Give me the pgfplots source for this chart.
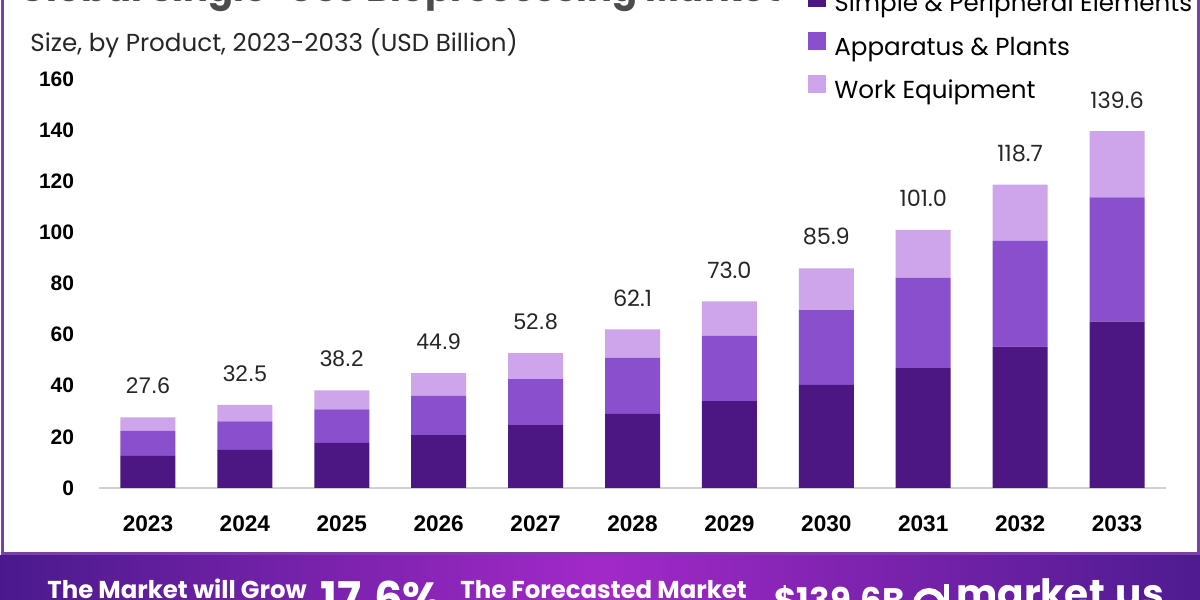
\documentclass[border=0pt]{standalone}
\usepackage{pgfplots}
\pgfplotsset{compat=1.18}
\usepackage{pgfplotstable}
\usepackage{fontspec}
\setmainfont{Poppins}
\newfontfamily\arialf{Liberation Sans}
\definecolor{cDark}{HTML}{4C1782}
\definecolor{cMid}{HTML}{8A4FCC}
\definecolor{cLight}{HTML}{CEA5EB}
\definecolor{cBorder}{HTML}{7B3FA6}
\definecolor{bLeft}{HTML}{4A1A8C}
\definecolor{bMid}{HTML}{A229C8}
\definecolor{bRight}{HTML}{4E1B90}
\pgfplotstableread{
x dark mid light total
0 12.6 9.7 5.3 27.6
1 14.9 11.2 6.4 32.5
2 17.7 13.1 7.4 38.2
3 20.7 15.4 8.8 44.9
4 24.6 18.0 10.2 52.8
5 29.0 21.9 11.2 62.1
6 34.0 25.5 13.5 73.0
7 40.3 29.3 16.3 85.9
8 46.9 35.3 18.8 101.0
9 55.3 41.5 21.9 118.7
10 65.1 48.6 25.9 139.6
}\data
\pgfplotsset{geom/.style={
  at={(49.75pt,56pt)}, anchor=south west,
  scale only axis, width=533pt, height=204.5pt,
  ymin=0, ymax=160, xmin=-0.5, xmax=10.5}}
\begin{document}
\begin{tikzpicture}
\useasboundingbox (0pt,0pt) rectangle (600pt,300pt);
\clip (0pt,0pt) rectangle (600pt,300pt);
\fill[white] (0pt,0pt) rectangle (600pt,300pt);
% title (cut off at top)
\node[anchor=base west, inner sep=0pt, text=black!70, font=\bfseries\fontsize{18.5}{22}\selectfont] at (9pt,299.3pt) {Global Single-Use Bioprocessing Market};
% subtitle
\node[anchor=base west, inner sep=0pt, text=black!85, font=\fontsize{12.3}{14}\selectfont] at (15pt,274pt) {Size, by Product, 2023-2033 (USD Billion)};
% panel border
\draw[cBorder, line width=1.5pt] (1pt,310pt) -- (1pt,23pt) -- (599pt,23pt) -- (599pt,310pt);
\begin{axis}[geom,
  ybar stacked, bar width=27.5pt,
  axis lines=left, axis line style={-},
  x axis line style={draw=black!18, line width=1.2pt},
  y axis line style={draw=none},
  major tick length=0pt,
  ytick={0,20,...,160},
  xtick={0,...,10},
  xticklabels={2023,2024,2025,2026,2027,2028,2029,2030,2031,2032,2033},
  /pgf/number format/assume math mode=true,
  yticklabel style={font=\arialf\bfseries\fontsize{10.5}{12}\selectfont, anchor=east, inner sep=0pt, xshift=-12.5pt},
  xticklabel style={font=\arialf\bfseries\fontsize{11.3}{13}\selectfont, anchor=north, inner sep=0pt, yshift=-13.5pt},
  legend cell align=left,
  legend style={at={(rel axis cs:0.6646,1.222)}, anchor=north west, draw=none, fill=none, inner sep=0pt,
    font=\fontsize{12.3}{14}\selectfont, row sep=7pt,
    nodes={inner sep=0pt, text height=9pt, text depth=3pt}},
  legend image code/.code={\fill[#1] (0pt,-0.3pt) rectangle (9pt,8.7pt); \path (13pt,0pt);},
]
\addplot[fill=cDark, draw=none] table[x=x, y=dark] {\data};
\addlegendentry{Simple \& Peripheral Elements}
\addplot[fill=cMid, draw=none] table[x=x, y=mid] {\data};
\addlegendentry{Apparatus \& Plants}
\addplot[fill=cLight, draw=none] table[x=x, y=light] {\data};
\addlegendentry{Work Equipment}
\end{axis}
% value labels on an overlay axis of the same geometry
\begin{axis}[geom, hide axis, clip=false]
\addplot[draw=none, mark=none, point meta=explicit, restrict x to domain=-0.5:4.5,
  nodes near coords={\pgfmathprintnumber[fixed,fixed zerofill,precision=1,assume math mode=true]{\pgfplotspointmeta}},
  nodes near coords style={anchor=south, inner sep=0pt, yshift=11.5pt, text=black!85, font=\arialf\fontsize{11.3}{13}\selectfont}]
  table[x=x, y=total, meta=total] {\data};
\addplot[draw=none, mark=none, point meta=explicit, restrict x to domain=4.5:10.5,
  nodes near coords={\pgfmathprintnumber[fixed,fixed zerofill,precision=1,assume math mode=true]{\pgfplotspointmeta}},
  nodes near coords style={anchor=south, inner sep=0pt, yshift=11.3pt, text=black!85, font=\fontsize{11.2}{13}\selectfont}]
  table[x=x, y=total, meta=total] {\data};
\end{axis}
% bottom banner
\shade[left color=bLeft, right color=bRight, middle color=bMid] (0pt,0pt) rectangle (600pt,22pt);
\node[anchor=base west, inner sep=0pt, text=white, font=\bfseries\fontsize{12.2}{14}\selectfont] at (23.5pt,1pt) {The Market will Grow};
\node[anchor=base west, inner sep=0pt, text=white, font=\bfseries\fontsize{22.5}{26}\selectfont] at (160pt,-7pt) {17.6\%};
\node[anchor=base west, inner sep=0pt, text=white, font=\bfseries\fontsize{12.2}{14}\selectfont] at (230pt,1pt) {The Forecasted Market};
\node[anchor=base west, inner sep=0pt, text=white, font=\bfseries\fontsize{17}{20}\selectfont] at (387pt,-6pt) {\$139.6B};
\draw[white, line width=3pt] (464.5pt,-2pt) circle (6.5pt);
\fill[white] (472pt,-2pt) rectangle (474.5pt,8pt);
\node[anchor=base west, inner sep=0pt, text=white, font=\bfseries\fontsize{19.5}{22}\selectfont] at (478pt,-4pt) {market.us};
\end{tikzpicture}
\end{document}
